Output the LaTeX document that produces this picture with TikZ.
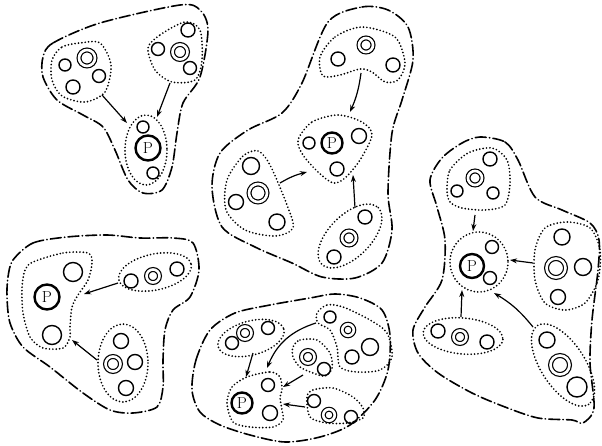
\documentclass[tikz,border=0pt]{standalone}
\usetikzlibrary{arrows.meta}
\tikzset{
  atom/.style={draw, circle, inner sep=0pt, line width=1.4pt, minimum size=#1},
  atom/.default=12pt,
  core/.style={draw, circle, inner sep=0pt, line width=1.2pt, double, double distance=2.6pt, minimum size=#1},
  core/.default=13pt,
  pnode/.style={draw, circle, inner sep=0pt, line width=2.4pt, minimum size=#1, font=\fontsize{16}{16}\selectfont},
  pnode/.default=21pt,
  group/.style={line width=1.9pt, line cap=round, dash pattern=on 0pt off 3.4pt},
  cell/.style={line width=1.6pt, line cap=round, dash pattern=on 11pt off 3.2pt on 0.4pt off 3.2pt},
  flow/.style={-{Stealth[length=7pt,width=5pt]}, line width=1.2pt},
}
\begin{document}
\begin{tikzpicture}[x=1pt, y=-1pt]
    \useasboundingbox (0,0) rectangle (602,446);

    % Cell a (top left)
    \draw[cell] plot[smooth cycle] coordinates {(43,57) (53,43) (100,23) (180,5) (200,10) (208,30) (200,77) (183,103) (177,133) (172,167) (162,190) (143,193) (128,180) (115,150) (103,127) (83,115) (57,100) (43,77)};
    \draw[group] plot[smooth cycle] coordinates {(52,60) (62,47) (80,43) (100,43) (111,65) (105,92) (85,102) (62,96) (52,80)};
    \node[atom=12pt] (a1-1) at (65,65) {};
    \node[core=16pt] (a1-2) at (87,58) {};
    \node[atom=13pt] (a1-3) at (99,76) {};
    \node[atom=14pt] (a1-4) at (73,87) {};
    \draw[group] plot[smooth cycle] coordinates {(148,48) (160,35) (185,22) (200,30) (202,60) (195,80) (172,82) (155,70)};
    \node[atom=14pt] (a2-1) at (188,30) {};
    \node[atom=13pt] (a2-2) at (158,49) {};
    \node[core=15pt] (a2-3) at (180,52) {};
    \node[atom=13pt] (a2-4) at (190,68) {};
    \draw[group] (146,150) ellipse [x radius=21, y radius=35];
    \node[atom=12pt] (ap-1) at (143,127) {};
    \node[pnode=25pt] (ap) at (148,148) {P};
    \node[atom=12pt] (ap-2) at (153,173) {};
    \coordinate (a1-out) at (102,95);
    \coordinate (a2-out) at (170,83);
    \coordinate (ap-in1) at (127,123);
    \coordinate (ap-in2) at (157,117);
    \draw[flow] (a1-out) -- (ap-in1);
    \draw[flow] (a2-out) -- (ap-in2);

    % Cell b (top middle)
    \draw[cell] plot[smooth cycle] coordinates {(328,22) (362,7) (388,10) (408,27) (413,60) (402,100) (392,133) (388,193) (392,230) (382,263) (355,278) (322,277) (292,263) (255,247) (222,227) (212,187) (220,153) (248,130) (282,113) (302,83)};
    \draw[group] plot[smooth cycle] coordinates {(320,57) (335,37) (362,27) (395,37) (405,63) (398,80) (385,82) (372,72) (360,69) (340,75) (323,76)};
    \node[core=14pt] (b1-1) at (366,45) {};
    \node[atom=14pt] (b1-2) at (338,59) {};
    \node[atom=14pt] (b1-3) at (393,65) {};
    \draw[group] plot[smooth cycle] coordinates {(298,140) (312,122) (338,115) (362,122) (372,135) (360,160) (345,178) (333,183) (318,172) (303,155)};
    \node[atom=12pt] (bp-1) at (309,143) {};
    \node[pnode=21pt] (bp) at (332,143) {P};
    \node[atom=15pt] (bp-2) at (359,136) {};
    \node[atom=14pt] (bp-3) at (337,169) {};
    \draw[group] plot[smooth cycle] coordinates {(243,156) (258,151) (270,165) (287,205) (293,228) (275,236) (245,230) (226,210) (227,180)};
    \node[atom=17pt] (b2-1) at (251,166) {};
    \node[core=18pt] (b2-2) at (258,193) {};
    \node[atom=15pt] (b2-3) at (236,202) {};
    \node[atom=16pt] (b2-4) at (277,222) {};
    \draw[group, rotate around={45:(350,236)}] (350,236) ellipse [x radius=40, y radius=21];
    \node[atom=14pt] (b3-1) at (365,217) {};
    \node[core=14pt] (b3-2) at (349,238) {};
    \node[atom=14pt] (b3-3) at (334,257) {};
    \coordinate (b1-out) at (361,73);
    \coordinate (b2-out) at (280,183);
    \coordinate (b3-out) at (355,208);
    \coordinate (bp-in1) at (350,112);
    \coordinate (bp-in2) at (307,172);
    \coordinate (bp-in3) at (353,175);
    \draw[flow] (b1-out) to[bend left=8] (bp-in1);
    \draw[flow] (b2-out) to[bend left=8] (bp-in2);
    \draw[flow] (b3-out) -- (bp-in3);

    % Cell c (right)
    \draw[cell] plot[smooth cycle] coordinates {(480,137) (505,142) (518,160) (535,197) (562,210) (590,223) (599,240) (598,270) (592,320) (590,363) (594,408) (583,423) (572,420) (538,418) (505,407) (472,393) (438,373) (418,353) (413,330) (425,307) (442,280) (445,240) (437,207) (430,180) (442,158) (462,143)};
    \draw[group] plot[smooth cycle] coordinates {(447,190) (450,170) (468,153) (492,148) (507,160) (510,183) (505,205) (485,210) (462,208) (450,202)};
    \node[atom=14pt] (c1-1) at (490,159) {};
    \node[core=14pt] (c1-2) at (475,178) {};
    \node[atom=12pt] (c1-3) at (457,191) {};
    \node[atom=12pt] (c1-4) at (493,193) {};
    \draw[group] (479,262) ellipse [x radius=29, y radius=30];
    \node[atom=13pt] (cp-1) at (492,247) {};
    \node[pnode=24pt] (cp) at (472,266) {P};
    \node[atom=13pt] (cp-2) at (490,278) {};
    \draw[group] plot[smooth cycle] coordinates {(567,222) (590,228) (600,250) (598,280) (585,303) (565,310) (545,303) (535,280) (535,250) (545,228)};
    \node[atom=16pt] (c2-1) at (562,237) {};
    \node[core=19pt] (c2-2) at (556,268) {};
    \node[atom=17pt] (c2-3) at (583,267) {};
    \node[atom=15pt] (c2-4) at (558,297) {};
    \draw[group, rotate around={-5:(463,336)}] (463,336) ellipse [x radius=40, y radius=18];
    \node[atom=14pt] (c3-1) at (438,331) {};
    \node[core=13pt] (c3-2) at (460,337) {};
    \node[atom=14pt] (c3-3) at (487,342) {};
    \draw[group, rotate around={-57:(563,365)}] (563,365) ellipse [x radius=47, y radius=22];
    \node[atom=16pt] (c4-1) at (547,340) {};
    \node[core=19pt] (c4-2) at (560,365) {};
    \node[atom=20pt] (c4-3) at (577,387) {};
    \coordinate (c1-out) at (475,215);
    \coordinate (c2-out) at (533,263);
    \coordinate (c3-out) at (461,317);
    \coordinate (c4-out) at (533,327);
    \coordinate (cp-in1) at (473,231);
    \coordinate (cp-in2) at (510,260);
    \coordinate (cp-in3) at (462,290);
    \coordinate (cp-in4) at (494,293);
    \draw[flow] (c1-out) -- (cp-in1);
    \draw[flow] (c2-out) -- (cp-in2);
    \draw[flow] (c3-out) -- (cp-in3);
    \draw[flow] (c4-out) to[bend right=10] (cp-in4);

    % Cell d (bottom left)
    \draw[cell] plot[smooth cycle] coordinates {(13,260) (33,243) (67,237) (107,235) (140,238) (173,238) (193,243) (199,270) (190,297) (173,310) (165,330) (163,360) (163,387) (157,407) (133,413) (110,410) (83,393) (50,367) (23,347) (10,323) (7,297) (8,277)};
    \draw[group] plot[smooth cycle] coordinates {(33,262) (63,253) (88,253) (92,263) (88,280) (78,295) (72,307) (70,327) (70,337) (63,348) (43,348) (30,337) (23,313) (22,288) (25,270)};
    \node[atom=19pt] (dp-1) at (73,272) {};
    \node[pnode=25pt] (dp) at (47,297) {P};
    \node[atom=19pt] (dp-2) at (52,335) {};
    \draw[group, rotate around={12:(155,272)}] (155,272) ellipse [x radius=37, y radius=18];
    \node[atom=14pt] (d1-1) at (131,281) {};
    \node[core=13pt] (d1-2) at (153,276) {};
    \node[atom=14pt] (d1-3) at (177,269) {};
    \draw[group] (123,363) ellipse [x radius=25, y radius=39];
    \node[atom=15pt] (d2-1) at (121,341) {};
    \node[core=15pt] (d2-2) at (113,364) {};
    \node[atom=15pt] (d2-3) at (135,362) {};
    \node[atom=15pt] (d2-4) at (126,388) {};
    \coordinate (d1-out) at (118,283);
    \coordinate (d2-out) at (97,360);
    \coordinate (dp-in1) at (84,294);
    \coordinate (dp-in2) at (72,340);
    \draw[flow] (d1-out) -- (dp-in1);
    \draw[flow] (d2-out) -- (dp-in2);

    % Cell e (bottom middle)
    \draw[cell] plot[smooth cycle] coordinates {(192,390) (196,360) (210,330) (235,313) (270,305) (310,298) (335,294) (360,298) (382,310) (390,335) (388,370) (375,400) (350,425) (320,437) (285,442) (250,435) (220,425) (200,412)};
    \draw[group, rotate around={15:(251,338)}] (251,338) ellipse [x radius=34, y radius=17];
    \node[atom=13pt] (e1-1) at (232,343) {};
    \node[core=13pt] (e1-2) at (245,333) {};
    \node[atom=13pt] (e1-3) at (268,328) {};
    \draw[group] plot[smooth cycle] coordinates {(317,313) (327,305) (343,307) (370,320) (387,333) (392,357) (380,370) (357,372) (340,367) (337,347) (330,330) (318,323)};
    \node[atom=12pt] (e2-1) at (330,317) {};
    \node[core=11.5pt] (e2-2) at (348,330) {};
    \node[atom=17pt] (e2-3) at (370,347) {};
    \node[atom=14pt] (e2-4) at (352,357) {};
    \draw[group] plot[smooth cycle] coordinates {(293,347) (300,340) (317,340) (330,353) (332,368) (325,376) (313,373) (300,367) (293,357)};
    \node[core=13pt] (e3-1) at (308,357) {};
    \node[atom=13pt] (e3-2) at (324,369) {};
    \draw[group] plot[smooth cycle] coordinates {(247,377) (270,372) (280,377) (282,390) (280,397) (282,410) (283,420) (273,427) (250,427) (233,422) (227,403) (232,387)};
    \node[atom=13pt] (ep-1) at (268,385) {};
    \node[pnode=21pt] (ep) at (242,403) {P};
    \node[atom=15pt] (ep-2) at (270,413) {};
    \draw[group] plot[smooth cycle] coordinates {(307,397) (313,390) (333,388) (353,397) (363,408) (363,418) (347,423) (327,423) (310,417)};
    \node[atom=13pt] (e4-1) at (314,401) {};
    \node[core=11.5pt] (e4-2) at (329,415) {};
    \node[atom=13pt] (e4-3) at (351,417) {};
    \coordinate (e1-out) at (253,353);
    \coordinate (e2-out) at (316,323);
    \coordinate (e3-out) at (303,375);
    \coordinate (e4-out) at (305,407);
    \coordinate (ep-in1) at (246,377);
    \coordinate (ep-in2) at (267,368);
    \coordinate (ep-in3) at (283,387);
    \coordinate (ep-in4) at (283,404);
    \draw[flow] (e1-out) -- (ep-in1);
    \draw[flow] (e2-out) to[bend right=25] (ep-in2);
    \draw[flow] (e3-out) -- (ep-in3);
    \draw[flow] (e4-out) -- (ep-in4);
\end{tikzpicture}
\end{document}
